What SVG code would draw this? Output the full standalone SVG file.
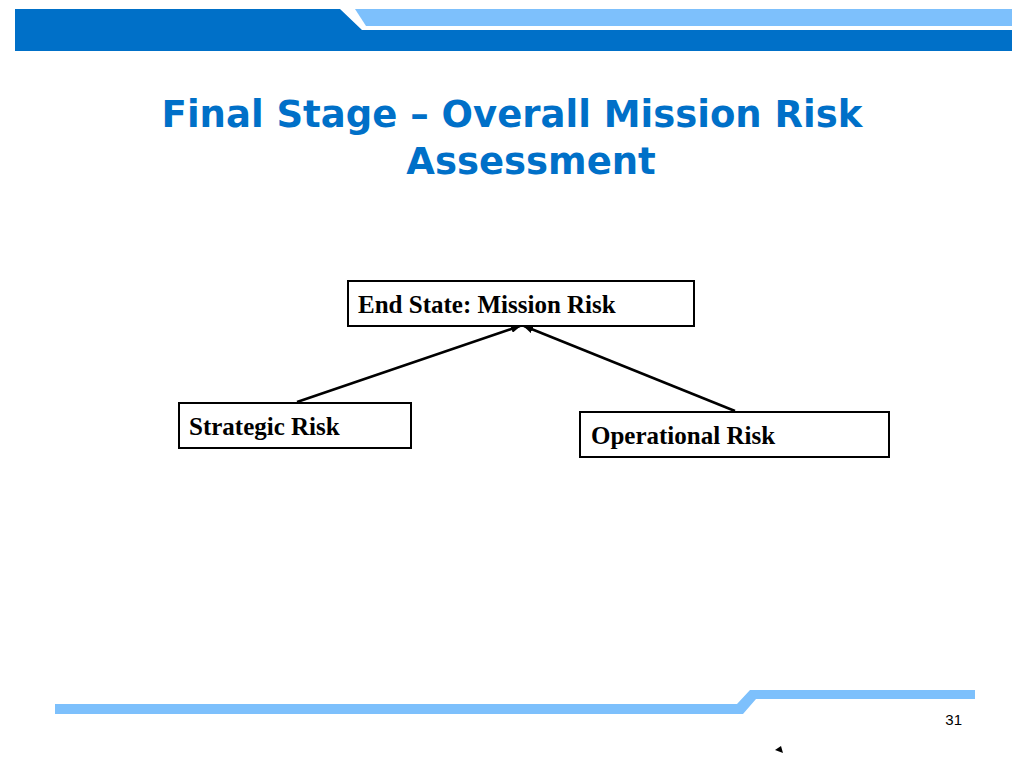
<svg xmlns="http://www.w3.org/2000/svg" width="1024" height="768" viewBox="0 0 1024 768">
<style>
.box{fill:#fff;stroke:#000;stroke-width:2}
.lbl{font-family:"Liberation Serif",serif;font-weight:bold;font-size:25px;fill:#000}
.ttl{font-family:"DejaVu Sans",sans-serif;font-weight:bold;font-size:37px;fill:#0070C8;text-anchor:middle}
</style>
<defs><marker id="ah" markerWidth="10" markerHeight="8" refX="9" refY="4" orient="auto" markerUnits="userSpaceOnUse"><path d="M0,0 L10,4 L0,8 Z" fill="#000"/></marker></defs>
<rect x="0" y="0" width="1024" height="768" fill="#fff"/>
<g id="banner">
<polygon points="15,9 340,9 362,30 1012,30 1012,51 15,51" fill="#0070C8"/>
<polygon points="355,9 1012,9 1012,26 366,26" fill="#7DC0FC"/>
<polygon points="55,704 737,704 750,690 975,690 975,699 756,699 743,714 55,714" fill="#7DC0FC"/>
<text x="962" y="725" font-family="Liberation Sans Narrow,Liberation Sans,sans-serif" font-size="15" text-anchor="end" fill="#000">31</text>
<polygon points="775,750 781,746 783,753" fill="#000"/>
</g>
<text class="ttl" x="512" y="127">Final Stage – Overall Mission Risk</text>
<text class="ttl" x="531" y="174">Assessment</text>
<g id="connectors" stroke="#000" stroke-width="2.5" fill="none">
<line x1="297" y1="402" x2="520" y2="326" marker-end="url(#ah)"/>
<line x1="735" y1="411" x2="524" y2="326" marker-end="url(#ah)"/>
</g>
<g id="n-end"><rect class="box" x="348" y="281" width="346" height="45"/><text class="lbl" x="358" y="313">End State: Mission Risk</text></g>
<g id="n-strat"><rect class="box" x="179" y="403" width="232" height="45"/><text class="lbl" x="189" y="435">Strategic Risk</text></g>
<g id="n-oper"><rect class="box" x="580" y="412" width="309" height="45"/><text class="lbl" x="591" y="444">Operational Risk</text></g>
</svg>
